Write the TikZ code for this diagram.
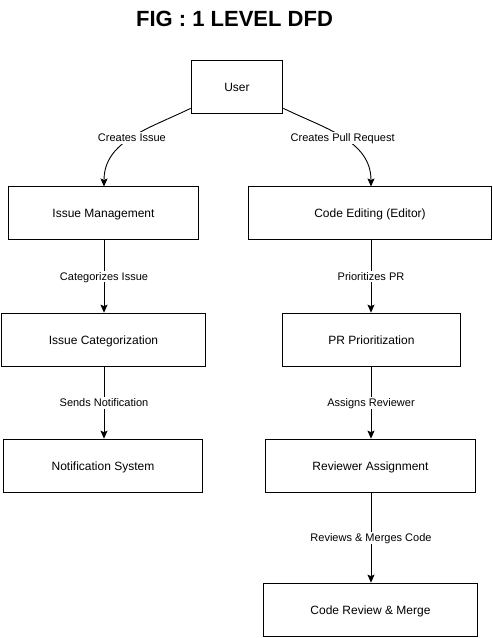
\documentclass[tikz,border=0pt]{standalone}
\usepackage{fontspec}
\setmainfont{Liberation Sans}
\usetikzlibrary{arrows.meta}
\begin{document}
\begin{tikzpicture}[x=1pt,y=-1pt,
  procbox/.style={draw=black,line width=1.7pt,fill=white,minimum height=53pt,inner sep=0pt,text height=8.6pt,text depth=0pt,font=\fontsize{12}{14}\selectfont},
  flow/.style={draw=black,line width=0.9pt,-{Stealth[length=8pt,width=7pt,inset=1.5pt]}},
  flowlabel/.style={fill=white,inner sep=2pt,text height=7.9pt,text depth=0pt,font=\fontsize{11}{13}\selectfont}]
\useasboundingbox (0,0) rectangle (493,638);
\node[font=\fontsize{22}{26}\selectfont\bfseries,text height=15.8pt,text depth=0pt,inner sep=0pt] (title) at (234.5,19) {FIG : 1 LEVEL DFD};
\node[procbox,minimum width=91pt] (user) at (237,87) {User};
\node[procbox,minimum width=190pt] (im) at (103.5,213) {Issue Management};
\node[procbox,minimum width=243pt] (ce) at (370,213) {Code Editing (Editor)};
\node[procbox,minimum width=204pt] (ic) at (103.5,340) {Issue Categorization};
\node[procbox,minimum width=178pt] (pr) at (371.5,340) {PR Prioritization};
\node[procbox,minimum width=199pt] (ns) at (103,466) {Notification System};
\node[procbox,minimum width=210pt] (ra) at (370.5,466) {Reviewer Assignment};
\node[procbox,minimum width=214pt] (cr) at (370.5,610) {Code Review \& Merge};
\coordinate (imtop) at (104,186.5);
\coordinate (cetop) at (371,186.5);
\draw[flow] ([yshift=6pt]user.south west) to[out=206,in=90] node[flowlabel,pos=0.5] {Creates Issue} (imtop);
\draw[flow] ([yshift=6pt]user.south east) to[out=-26,in=90] node[flowlabel,pos=0.5] {Creates Pull Request} (cetop);
\draw[flow] (im.south -| imtop) -- node[flowlabel] {Categorizes Issue} (ic.north -| imtop);
\draw[flow] (ce.south -| cetop) -- node[flowlabel] {Prioritizes PR} (pr.north -| cetop);
\draw[flow] (ic.south -| imtop) -- node[flowlabel] {Sends Notification} (ns.north -| imtop);
\draw[flow] (pr.south -| cetop) -- node[flowlabel] {Assigns Reviewer} (ra.north -| cetop);
\draw[flow] (ra.south -| cetop) -- node[flowlabel] {Reviews \& Merges Code} (cr.north -| cetop);
\end{tikzpicture}
\end{document}
